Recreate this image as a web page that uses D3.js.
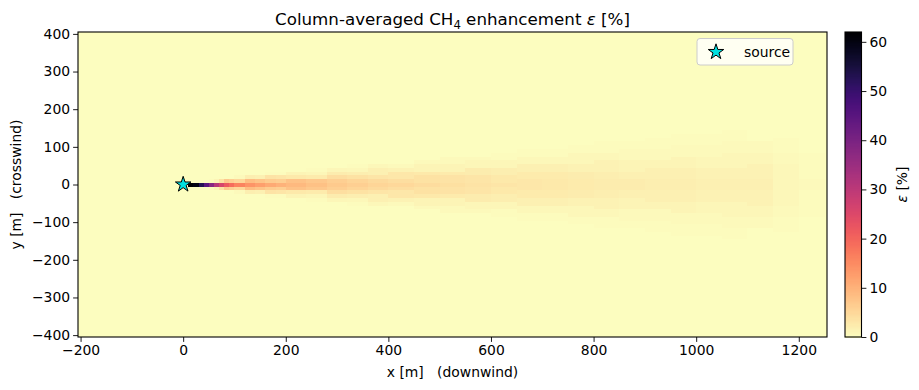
<!DOCTYPE html>
<html>
<head>
<meta charset="utf-8">
<script src="https://cdn.jsdelivr.net/npm/d3@7"></script>
<style>
  body { margin: 0; background: #fff; }
  text { font-family: "DejaVu Sans", sans-serif; fill: #000; white-space: pre; }
</style>
</head>
<body>
<svg id="chart" width="919" height="390"></svg>
<script>
// downwind bins (edges, m)
var xEdges = [10, 20, 30, 40, 50, 60, 70, 80, 90, 100, 120, 140, 160, 180, 200,
  240, 280, 320, 360, 400, 450, 500, 550, 600, 650, 700, 750, 800, 850, 900,
  950, 1000, 1050, 1100, 1150, 1200, 1250];
// centerline enhancement per bin [%]
var centerline = [62, 60, 53, 45, 38, 31, 26, 22, 19, 16, 14, 12.5, 11, 10, 9,
  8, 7, 6.2, 5.5, 4.9, 4.4, 4.0, 3.6, 3.3, 3.0, 2.8, 2.6, 2.4, 2.2, 2.1,
  2.0, 1.9, 1.8, 1.7, 0.9, 0.5];
// crosswind spread per bin [m]
var sigmaY = [2, 2, 2.5, 3, 3.5, 4, 5, 6, 6.5, 8, 9, 10, 11.5, 12.5, 14,
  16, 18, 20, 23, 26, 29, 32, 35, 38, 41, 44, 47, 50, 53, 56,
  59, 62, 65, 68, 70, 72];
// relative crosswind profile at 0, 0.5, 1, ... sigma
var profile = [1, 0.88, 0.61, 0.32, 0.14, 0.044, 0.011, 0.002];
// crosswind rows (cell centres, m)
var yRows = d3.range(-400, 401, 10);
var source = [0, 0];

var xTicks = [-200, 0, 200, 400, 600, 800, 1000, 1200];
var yTicks = [-400, -300, -200, -100, 0, 100, 200, 300, 400];
var cbTicks = [0, 10, 20, 30, 40, 50, 60];
var vmax = 62;

const svg = d3.select("#chart");
const pl = 78, pr = 827, pt = 32, pb = 337;

var x = d3.scaleLinear().domain([-205, 1255]).range([pl, pr]);
var y = d3.scaleLinear().domain([-405, 405]).range([pb, pt]);
var color = d3.scaleSequential(function (t) { return d3.interpolateMagma(1 - t); })
  .domain([0, vmax]);

// background field
svg.append("rect")
  .attr("x", pl).attr("y", pt)
  .attr("width", pr - pl).attr("height", pb - pt)
  .attr("fill", color(0));

// plume cells
var cells = [];
centerline.forEach(function (c, i) {
  yRows.forEach(function (yc) {
    var k = Math.round(Math.abs(yc) / sigmaY[i] / 0.5);
    if (k < profile.length) {
      cells.push({ x0: xEdges[i], x1: xEdges[i + 1], y: yc, v: c * profile[k] });
    }
  });
});

svg.append("g")
  .attr("shape-rendering", "crispEdges")
  .selectAll("rect")
  .data(cells)
  .join("rect")
  .attr("x", function (d) { return x(d.x0); })
  .attr("width", function (d) { return x(d.x1) - x(d.x0) + 0.3; })
  .attr("y", function (d) { return y(d.y + 5); })
  .attr("height", function (d) { return y(d.y - 5) - y(d.y + 5) + 0.3; })
  .attr("fill", function (d) { return color(d.v); });

// source star
var star = d3.symbol().type(d3.symbolStar).size(75);
svg.append("path")
  .attr("d", star())
  .attr("transform", "translate(" + x(source[0]) + "," + y(source[1]) + ")")
  .attr("fill", "#00e0e0")
  .attr("stroke", "#000")
  .attr("stroke-width", 1);

// axes
var fmt = function (d) { return d < 0 ? "\u2212" + Math.abs(d) : d; };
var xAxis = svg.append("g")
  .attr("transform", "translate(0," + pb + ")")
  .call(d3.axisBottom(x).tickValues(xTicks).tickSize(4.9).tickPadding(3).tickFormat(fmt));
var yAxis = svg.append("g")
  .attr("transform", "translate(" + pl + ",0)")
  .call(d3.axisLeft(y).tickValues(yTicks).tickSize(4.9).tickPadding(3).tickFormat(fmt));
[xAxis, yAxis].forEach(function (a) {
  a.select(".domain").remove();
  a.selectAll("line").attr("stroke", "#000").attr("stroke-width", 0.9);
  a.selectAll("text").attr("font-size", "13.9px").attr("font-family", "DejaVu Sans").attr("fill", "#000");
});

// frame
svg.append("rect")
  .attr("x", pl).attr("y", pt)
  .attr("width", pr - pl).attr("height", pb - pt)
  .attr("fill", "none").attr("stroke", "#000").attr("stroke-width", 1.1);

// title
var title = svg.append("text")
  .attr("x", (pl + pr) / 2).attr("y", 25)
  .attr("text-anchor", "middle")
  .attr("font-size", "16.7px");
title.append("tspan").text("Column-averaged CH");
title.append("tspan").attr("font-size", "11.7px").attr("dy", 4).text("4");
title.append("tspan").attr("dy", -4).text(" enhancement ");
title.append("tspan").attr("font-style", "italic").text("\u03b5");
title.append("tspan").text(" [%]");

// axis labels
svg.append("text")
  .attr("x", (pl + pr) / 2).attr("y", 377)
  .attr("text-anchor", "middle")
  .attr("font-size", "13.9px")
  .text("x [m]\u00a0\u00a0\u00a0(downwind)");
svg.append("text")
  .attr("transform", "translate(21," + (pt + pb) / 2 + ") rotate(-90)")
  .attr("text-anchor", "middle")
  .attr("font-size", "13.9px")
  .text("y [m]\u00a0\u00a0\u00a0(crosswind)");

// legend
var lg = svg.append("g");
lg.append("rect")
  .attr("x", 697).attr("y", 38.5).attr("width", 96).attr("height", 26.5)
  .attr("rx", 3).attr("fill", "#fff").attr("fill-opacity", 0.8)
  .attr("stroke", "#ccc").attr("stroke-width", 1);
lg.append("path")
  .attr("d", star())
  .attr("transform", "translate(716,52)")
  .attr("fill", "#00e0e0").attr("stroke", "#000").attr("stroke-width", 1);
lg.append("text")
  .attr("x", 744).attr("y", 56.5)
  .attr("font-size", "13.9px")
  .text("source");

// colorbar
var cbX = 845, cbW = 16.5;
var cb = d3.scaleLinear().domain([0, vmax]).range([pb, pt]);
var steps = d3.range(0, 256);
svg.append("g")
  .attr("shape-rendering", "crispEdges")
  .selectAll("rect")
  .data(steps)
  .join("rect")
  .attr("x", cbX).attr("width", cbW)
  .attr("y", function (s) { return cb((s + 1) / 256 * vmax); })
  .attr("height", function (s) { return cb(s / 256 * vmax) - cb((s + 1) / 256 * vmax) + 0.5; })
  .attr("fill", function (s) { return color((s + 0.5) / 256 * vmax); });
svg.append("rect")
  .attr("x", cbX).attr("y", pt).attr("width", cbW).attr("height", pb - pt)
  .attr("fill", "none").attr("stroke", "#000").attr("stroke-width", 1.1);
var cbAxis = svg.append("g")
  .attr("transform", "translate(" + (cbX + cbW) + ",0)")
  .call(d3.axisRight(cb).tickValues(cbTicks).tickSize(4.9).tickPadding(3));
cbAxis.select(".domain").remove();
cbAxis.selectAll("line").attr("stroke", "#000").attr("stroke-width", 0.9);
cbAxis.selectAll("text").attr("font-size", "13.9px").attr("font-family", "DejaVu Sans").attr("fill", "#000");

svg.append("text")
  .attr("transform", "translate(907," + (pt + pb) / 2 + ") rotate(-90)")
  .attr("text-anchor", "middle")
  .attr("font-size", "13.9px")
  .html('<tspan font-style="italic">\u03b5</tspan> [%]');
</script>
</body>
</html>
